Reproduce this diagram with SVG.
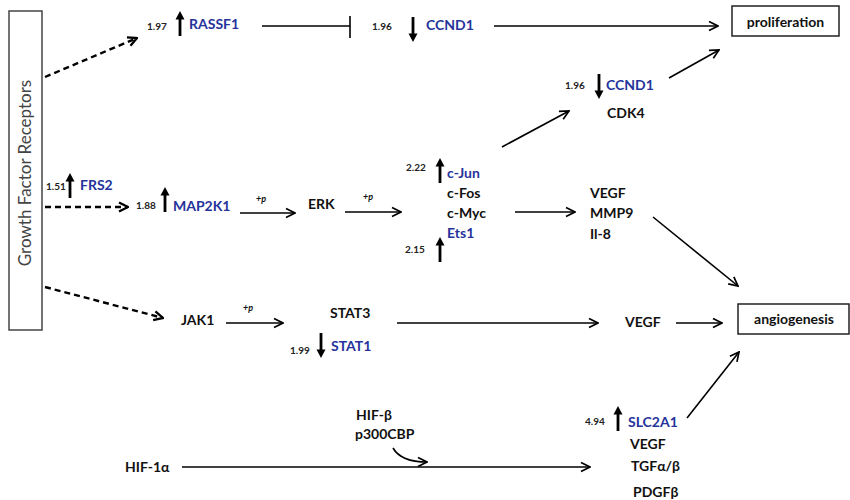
<svg xmlns="http://www.w3.org/2000/svg" xmlns:xlink="http://www.w3.org/1999/xlink" width="850" height="500" viewBox="0 0 850 500">
<style>
text{font-family:Lato,"Liberation Sans",sans-serif;font-weight:bold;font-size:14px;fill:#111}
.blue{fill:#25339b}
.num{font-size:10px;fill:#222}
.p{font-size:9px;font-style:italic}
.ln{fill:none;stroke:#000;stroke-width:1.6}
.dash{fill:none;stroke:#000;stroke-width:2.4;stroke-dasharray:6 4}
.box{fill:#fff;stroke:#444;stroke-width:1.5}
.gfr{font-weight:normal;font-size:17px;fill:#444}
</style>
<defs>
<marker id="open" viewBox="0 0 12 12" refX="11" refY="6" markerWidth="12" markerHeight="12" markerUnits="userSpaceOnUse" orient="auto">
<path d="M2,1.5 L11,6 L2,10.5" fill="none" stroke="#000" stroke-width="1.7"/>
</marker>
<marker id="openb" viewBox="0 0 12 12" refX="11" refY="6" markerWidth="12" markerHeight="12" markerUnits="userSpaceOnUse" orient="auto">
<path d="M2,1.5 L11,6 L2,10.5" fill="none" stroke="#000" stroke-width="2.3"/>
</marker>
<path id="up" d="M0,0 L-4.5,8.5 L-1.4,8.5 L-1.4,25 L1.4,25 L1.4,8.5 L4.5,8.5 Z" fill="#000"/>
<path id="dn" d="M0,25 L-4.5,16.5 L-1.4,16.5 L-1.4,0 L1.4,0 L1.4,16.5 L4.5,16.5 Z" fill="#000"/>
</defs>

<g id="connectors">
<path class="dash" d="M45,77 L137,38" marker-end="url(#openb)"/>
<path class="dash" d="M45,207 L128,207" marker-end="url(#openb)"/>
<path class="dash" d="M45,287 L163,318" marker-end="url(#openb)"/>
<path class="ln" d="M262,26 L350,26 M350,16 L350,38"/>
<path class="ln" d="M494,26 L718,26" marker-end="url(#open)"/>
<path class="ln" d="M669,78 L719,50" marker-end="url(#open)"/>
<path class="ln" d="M502,147 L569,111" marker-end="url(#open)"/>
<path class="ln" d="M240,213 L295,213" marker-end="url(#open)"/>
<text class="p" x="256" y="202">+p</text>
<path class="ln" d="M345,212 L401,212" marker-end="url(#open)"/>
<text class="p" x="363" y="200">+p</text>
<path class="ln" d="M515,212 L575,212" marker-end="url(#open)"/>
<path class="ln" d="M653,217 L738,286" marker-end="url(#open)"/>
<path class="ln" d="M226,323 L283,323" marker-end="url(#open)"/>
<text class="p" x="243" y="311">+p</text>
<path class="ln" d="M397,323 L598,323" marker-end="url(#open)"/>
<path class="ln" d="M676,323 L722,323" marker-end="url(#open)"/>
<path class="ln" d="M687,418 L739,352" marker-end="url(#open)"/>
<path class="ln" d="M182,467 L590,467" marker-end="url(#open)"/>
<path class="ln" d="M393,448 Q401,462 427,462" marker-end="url(#open)"/>
</g>

<g id="gfr">
<rect class="box" x="9" y="11" width="33" height="319"/>
<text class="gfr" transform="translate(31,173) rotate(-90)" text-anchor="middle">Growth Factor Receptors</text>
</g>

<g id="rassf1">
<text class="num" x="147" y="30">1.97</text>
<use xlink:href="#up" x="180" y="11"/>
<text class="blue" x="189" y="29">RASSF1</text>
</g>

<g id="ccnd1-top">
<text class="num" x="372" y="30">1.96</text>
<use xlink:href="#dn" x="413" y="17"/>
<text class="blue" x="426" y="30">CCND1</text>
</g>

<g id="proliferation">
<rect class="box" x="732" y="6" width="107" height="30" style="stroke:#222"/>
<text x="785.5" y="27" text-anchor="middle">proliferation</text>
</g>

<g id="ccnd1-cdk4">
<text class="num" x="565" y="89">1.96</text>
<use xlink:href="#dn" x="599" y="74"/>
<text class="blue" x="606" y="90">CCND1</text>
<text x="607" y="118">CDK4</text>
</g>

<g id="frs2">
<text class="num" x="46" y="190">1.51</text>
<use xlink:href="#up" x="70" y="173"/>
<text class="blue" x="80" y="190">FRS2</text>
</g>

<g id="map2k1">
<text class="num" x="136" y="209">1.88</text>
<use xlink:href="#up" x="165" y="187"/>
<text class="blue" x="173" y="211">MAP2K1</text>
</g>

<g id="erk">
<text x="308" y="209">ERK</text>
</g>

<g id="tf">
<text class="num" x="406" y="171">2.22</text>
<use xlink:href="#up" x="440" y="158"/>
<text class="blue" x="447" y="178">c-Jun</text>
<text x="447" y="198">c-Fos</text>
<text x="447" y="218">c-Myc</text>
<text class="blue" x="447" y="238">Ets1</text>
<text class="num" x="405" y="253">2.15</text>
<use xlink:href="#up" x="440" y="237"/>
</g>

<g id="vegf-mmp9">
<text x="590" y="198">VEGF</text>
<text x="590" y="218">MMP9</text>
<text x="590" y="239">Il-8</text>
</g>

<g id="angiogenesis">
<rect class="box" x="738" y="304" width="111" height="30" style="stroke:#222"/>
<text x="794" y="324" text-anchor="middle">angiogenesis</text>
</g>

<g id="jak1">
<text x="181" y="325">JAK1</text>
</g>

<g id="stat">
<text x="330" y="318">STAT3</text>
<text class="num" x="290" y="354">1.99</text>
<use xlink:href="#dn" x="321" y="333"/>
<text class="blue" x="331" y="351">STAT1</text>
</g>

<g id="vegf">
<text x="625" y="327">VEGF</text>
</g>

<g id="hif-beta">
<text x="356" y="420">HIF-β</text>
<text x="355" y="439">p300CBP</text>
</g>

<g id="hif1a">
<text x="125" y="472">HIF-1α</text>
</g>

<g id="slc2a1">
<text class="num" x="585" y="425">4.94</text>
<use xlink:href="#up" x="618" y="406"/>
<text class="blue" x="628" y="427">SLC2A1</text>
<text x="630" y="449">VEGF</text>
<text x="631" y="471">TGFα/β</text>
<text x="633" y="497">PDGFβ</text>
</g>
</svg>
